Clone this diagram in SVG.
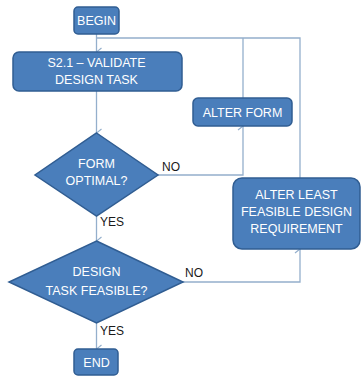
<svg xmlns="http://www.w3.org/2000/svg" width="362" height="376" viewBox="0 0 362 376">
<defs>
<style>
.n{fill:#4a7ebb;stroke:#305d92;stroke-width:1.5}
.t{fill:#ffffff;font-family:"Liberation Sans",Arial,sans-serif;font-size:12.5px;text-anchor:middle}
.l{fill:#1a1a1a;font-family:"Liberation Sans",Arial,sans-serif;font-size:12px}
.c{fill:none;stroke:#94afcc;stroke-width:1.3}
</style>
<marker id="a" markerWidth="10" markerHeight="10" refX="5" refY="9" orient="auto" markerUnits="userSpaceOnUse" viewBox="0 0 10 10">
<path d="M1,4 L5,9 L9,4" fill="none" stroke="#94afcc" stroke-width="1.2"/>
</marker>
</defs>
<rect width="362" height="376" fill="#ffffff"/>
<g id="connectors">
<path class="c" d="M96.5,34 V52" marker-end="url(#a)"/>
<path class="c" d="M96.5,38 H300 V178"/>
<path class="c" d="M243,98 V38"/>
<path class="c" d="M96.5,91 V133" marker-end="url(#a)"/>
<path class="c" d="M158,175 H243 V126" marker-end="url(#a)"/>
<path class="c" d="M96.5,216 V241" marker-end="url(#a)"/>
<path class="c" d="M183,282 H300 V249" marker-end="url(#a)"/>
<path class="c" d="M96.5,323 V349" marker-end="url(#a)"/>
<text class="l" x="162" y="171">NO</text>
<text class="l" x="100" y="226">YES</text>
<text class="l" x="185" y="277">NO</text>
<text class="l" x="100" y="335">YES</text>
</g>
<g id="begin">
<rect class="n" x="74" y="7" width="45" height="27" rx="4"/>
<text class="t" x="96.5" y="25">BEGIN</text>
</g>
<g id="validate">
<rect class="n" x="13" y="52" width="169" height="39" rx="6"/>
<text class="t" x="96.5" y="67">S2.1 – VALIDATE</text>
<text class="t" x="96.5" y="84">DESIGN TASK</text>
</g>
<g id="alter-form">
<rect class="n" x="193" y="98" width="99" height="28" rx="5"/>
<text class="t" x="242.5" y="117">ALTER FORM</text>
</g>
<g id="form-optimal">
<polygon class="n" points="96.5,133 158,175 96.5,216 35,175"/>
<text class="t" x="96.5" y="168">FORM</text>
<text class="t" x="96.5" y="185">OPTIMAL?</text>
</g>
<g id="alter-least">
<rect class="n" x="233" y="178" width="127" height="71" rx="9"/>
<text class="t" x="296.5" y="199">ALTER LEAST</text>
<text class="t" x="296.5" y="216">FEASIBLE DESIGN</text>
<text class="t" x="296.5" y="233">REQUIREMENT</text>
</g>
<g id="task-feasible">
<polygon class="n" points="96.5,241 183,282 96.5,323 9,282"/>
<text class="t" x="96.5" y="276">DESIGN</text>
<text class="t" x="96.5" y="295">TASK FEASIBLE?</text>
</g>
<g id="end">
<rect class="n" x="74" y="349" width="44" height="26" rx="4"/>
<text class="t" x="96.5" y="367">END</text>
</g>
</svg>
